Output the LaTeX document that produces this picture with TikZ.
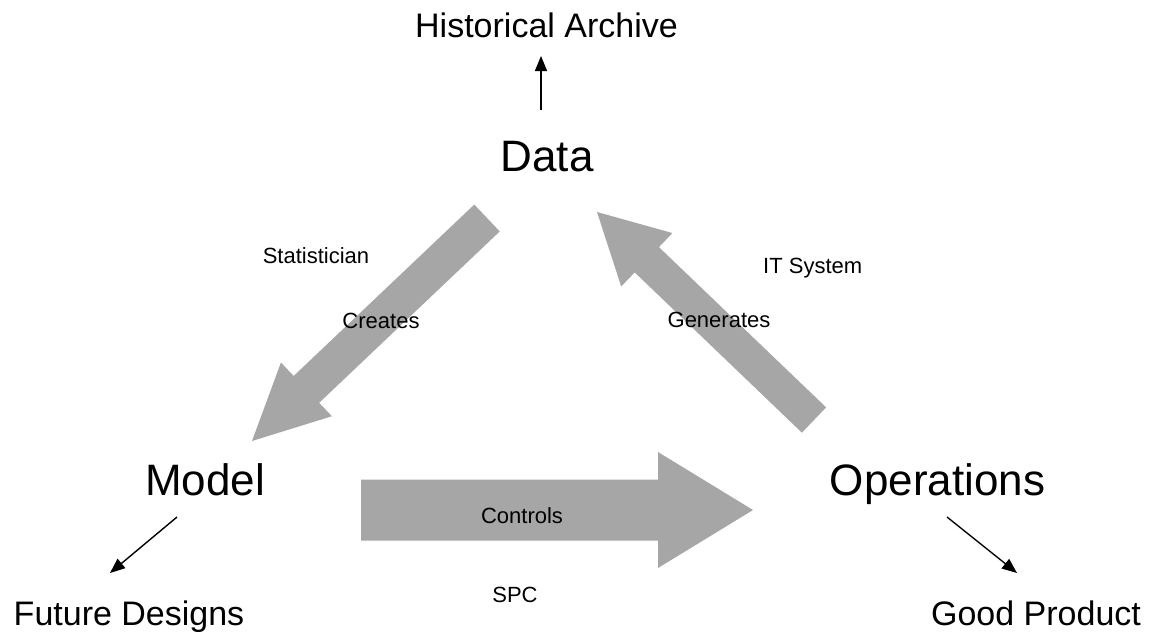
\documentclass[tikz,border=0pt]{standalone}
\usepackage{fontspec}
\setmainfont{Liberation Sans}
\usetikzlibrary{calc,arrows.meta}
% tail, tip, shaft half-width, head half-width, head length
\newcommand\fatarrow[5]{%
  \coordinate (fa-h) at ($(#2)!#5!(#1)$);
  \fill[fatfill] ($(#1)!#3!90:(#2)$) -- ($(fa-h)!#3!90:(#2)$) -- ($(fa-h)!#4!90:(#2)$)
    -- (#2) -- ($(fa-h)!#4!-90:(#2)$) -- ($(fa-h)!#3!-90:(#2)$) -- ($(#1)!#3!-90:(#2)$) -- cycle;}
\tikzset{
  big/.style={font=\fontsize{44}{50}\selectfont, anchor=base, inner sep=0pt},
  mid/.style={font=\fontsize{34}{40}\selectfont, anchor=base, inner sep=0pt},
  small/.style={font=\fontsize{22}{26}\selectfont, anchor=base, inner sep=0pt},
  fatfill/.style={fill=black!35},
  thinarrow/.style={line width=1.4pt, -{Triangle[length=15pt,width=12pt]}},
}
\begin{document}
\begin{tikzpicture}[x=1pt,y=-1pt]
\useasboundingbox[fill=white] (0,0) rectangle (1150,633);
% main nodes
\node[mid] (hist) at (546.5,37) {Historical Archive};
\node[big] (data) at (547,171) {Data};
\node[big] (model) at (205,495) {Model};
\node[big] (ops) at (937.5,495) {Operations};
\node[mid] (future) at (129,625) {Future Designs};
\node[mid] (good) at (1036,625) {Good Product};
% thin arrows
\coordinate (d-out) at (541,110);
\coordinate (h-in) at (541,56);
\draw[thinarrow] (d-out) -- (h-in);
\coordinate (m-out) at (177,517);
\coordinate (f-in) at (110,573);
\draw[thinarrow] (m-out) -- (f-in);
\coordinate (o-out) at (947,517);
\coordinate (g-in) at (1017,573);
\draw[thinarrow] (o-out) -- (g-in);
% fat arrows
\coordinate (cr-tail) at (487,218);
\coordinate (cr-tip) at (252,441);
\fatarrow{cr-tail}{cr-tip}{18.5pt}{37pt}{75pt}
\coordinate (ge-tail) at (814,420);
\coordinate (ge-tip) at (597,212);
\fatarrow{ge-tail}{ge-tip}{17.5pt}{37pt}{69pt}
\coordinate (co-tail) at (361,510);
\coordinate (co-tip) at (753,510);
\fatarrow{co-tail}{co-tip}{30.5pt}{58pt}{95pt}
% labels
\node[small] (stat) at (316,263) {Statistician};
\node[small] (creates) at (381,328) {Creates};
\node[small] (gen) at (719,327) {Generates};
\node[small, anchor=base west] (its) at (763,273) {IT System};
\node[small] (controls) at (522,523) {Controls};
\node[small] (spc) at (515,602) {SPC};
\end{tikzpicture}
\end{document}
